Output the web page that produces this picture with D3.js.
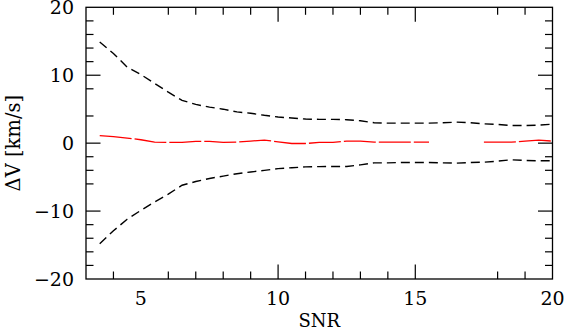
<!DOCTYPE html>
<html>
<head>
<meta charset="utf-8">
<script src="https://cdn.jsdelivr.net/npm/d3@7"></script>
<style>
  body { margin: 0; background: #fff; }
  text { font-family: "DejaVu Serif", "Liberation Serif", serif; fill: #000; }
</style>
</head>
<body>
<svg id="svg"></svg>
<script>
// SNR grid, every 0.5
var snr = [3.5, 4.0, 4.5, 5.0, 5.5, 6.0, 6.5, 7.0, 7.5, 8.0, 8.5, 9.0, 9.5, 10.0,
           10.5, 11.0, 11.5, 12.0, 12.5, 13.0, 13.5, 14.0, 14.5, 15.0, 15.5, 16.0,
           16.5, 17.0, 17.5, 18.0, 18.5, 19.0, 19.5, 20.0];

// upper / lower envelope (black dashed)
var upper = [14.9, 13.2, 11.2, 10.1, 8.8, 7.5, 6.3, 5.7, 5.3, 5.0, 4.6, 4.4, 4.1, 3.85,
             3.7, 3.55, 3.5, 3.5, 3.45, 3.3, 3.0, 2.95, 2.95, 2.95, 2.95, 3.0,
             3.1, 3.0, 2.85, 2.75, 2.6, 2.6, 2.65, 2.8];
var lower = [-14.8, -12.9, -11.2, -9.9, -8.65, -7.5, -6.2, -5.65, -5.2, -4.85, -4.5, -4.25, -4.0, -3.75,
             -3.62, -3.5, -3.45, -3.44, -3.44, -3.2, -2.9, -2.9, -2.85, -2.85, -2.85, -2.9,
             -2.95, -2.85, -2.8, -2.65, -2.45, -2.55, -2.6, -2.6];

// mean offset (red), null = no value
var mean = [1.1, 0.95, 0.75, 0.5, 0.15, 0.1, 0.1, 0.25, 0.25, 0.1, 0.15, 0.3, 0.45, 0.2,
            -0.05, -0.05, 0.1, 0.1, 0.3, 0.3, 0.15, 0.15, 0.15, 0.15, 0.15, null,
            null, null, 0.15, 0.15, 0.15, 0.3, 0.45, 0.3];

var xTickLabels = [5, 10, 15, 20];
var xMinor = [4, 6, 7, 8, 9, 11, 12, 13, 14, 18, 19];
var xMajor = [10, 15];
var yTickLabels = [20, 10, 0, -10, -20];
var yMinor = [18, 16, 14, 12, 8, 4, -2, -4, -6, -12, -14, -16, -18];
var yMajor = [10, 0, -10];

//////////////////////////////////////////////////////////////////////////////

var width = 565, height = 330;
var margin = {left: 86, right: 12.5, top: 7.3, bottom: 51};

var svg = d3.select("#svg").attr("width", width).attr("height", height);

var x = d3.scaleLinear().domain([3, 20]).range([margin.left, width - margin.right]);
var y = d3.scaleLinear().domain([-20, 20]).range([height - margin.bottom, margin.top]);

var minorLen = 7.5, majorLen = 14.5;

function fmt(v) {
    return v < 0 ? "\u2212" + Math.abs(v) : String(v);
}

// inward ticks on all four sides
function addXTicks(vals, len) {
    svg.append("g").selectAll("line.b").data(vals).enter().append("line")
        .attr("x1", function(d) { return x(d); }).attr("x2", function(d) { return x(d); })
        .attr("y1", y(-20)).attr("y2", y(-20) - len)
        .attr("stroke", "#000").attr("stroke-width", 1.2);
    svg.append("g").selectAll("line.t").data(vals).enter().append("line")
        .attr("x1", function(d) { return x(d); }).attr("x2", function(d) { return x(d); })
        .attr("y1", y(20)).attr("y2", y(20) + len)
        .attr("stroke", "#000").attr("stroke-width", 1.2);
}
function addYTicks(vals, len) {
    svg.append("g").selectAll("line.l").data(vals).enter().append("line")
        .attr("y1", function(d) { return y(d); }).attr("y2", function(d) { return y(d); })
        .attr("x1", x(3)).attr("x2", x(3) + len)
        .attr("stroke", "#000").attr("stroke-width", 1.2);
    svg.append("g").selectAll("line.r").data(vals).enter().append("line")
        .attr("y1", function(d) { return y(d); }).attr("y2", function(d) { return y(d); })
        .attr("x1", x(20)).attr("x2", x(20) - len)
        .attr("stroke", "#000").attr("stroke-width", 1.2);
}
addXTicks(xMinor, minorLen);
addXTicks(xMajor, majorLen);
addYTicks(yMinor, minorLen);
addYTicks(yMajor, majorLen);

// curves
function series(vals) {
    return snr.map(function(s, i) { return {x: s, y: vals[i]}; });
}
var line = d3.line()
    .defined(function(d) { return d.y !== null; })
    .x(function(d) { return x(d.x); })
    .y(function(d) { return y(d.y); });

svg.append("path").datum(series(upper)).attr("d", line)
    .attr("fill", "none").attr("stroke", "#000").attr("stroke-width", 1.4)
    .attr("stroke-dasharray", "9,5");
svg.append("path").datum(series(lower)).attr("d", line)
    .attr("fill", "none").attr("stroke", "#000").attr("stroke-width", 1.4)
    .attr("stroke-dasharray", "9,5");
svg.append("path").datum(series(mean)).attr("d", line)
    .attr("fill", "none").attr("stroke", "#ff0000").attr("stroke-width", 1.3)
    .attr("stroke-dasharray", "32,3");

// frame
svg.append("rect")
    .attr("x", x(3)).attr("y", y(20))
    .attr("width", x(20) - x(3)).attr("height", y(-20) - y(20))
    .attr("fill", "none").attr("stroke", "#000").attr("stroke-width", 1.3);

// tick labels
svg.append("g").selectAll("text").data(xTickLabels).enter().append("text")
    .attr("x", function(d) { return x(d); })
    .attr("y", 305)
    .attr("text-anchor", "middle")
    .style("font-size", "19px")
    .text(fmt);

svg.append("g").selectAll("text").data(yTickLabels).enter().append("text")
    .attr("x", 74)
    .attr("y", function(d) { return y(d) + 7; })
    .attr("text-anchor", "end")
    .style("font-size", "19px")
    .text(fmt);

// axis titles
svg.append("text")
    .attr("x", (x(3) + x(20)) / 2)
    .attr("y", 327)
    .attr("text-anchor", "middle")
    .style("font-size", "18px")
    .text("SNR");

svg.append("text")
    .attr("transform", "translate(20," + y(0) + ") rotate(-90)")
    .attr("text-anchor", "middle")
    .style("font-size", "19.5px")
    .text("\u0394V [km/s]");
</script>
</body>
</html>
